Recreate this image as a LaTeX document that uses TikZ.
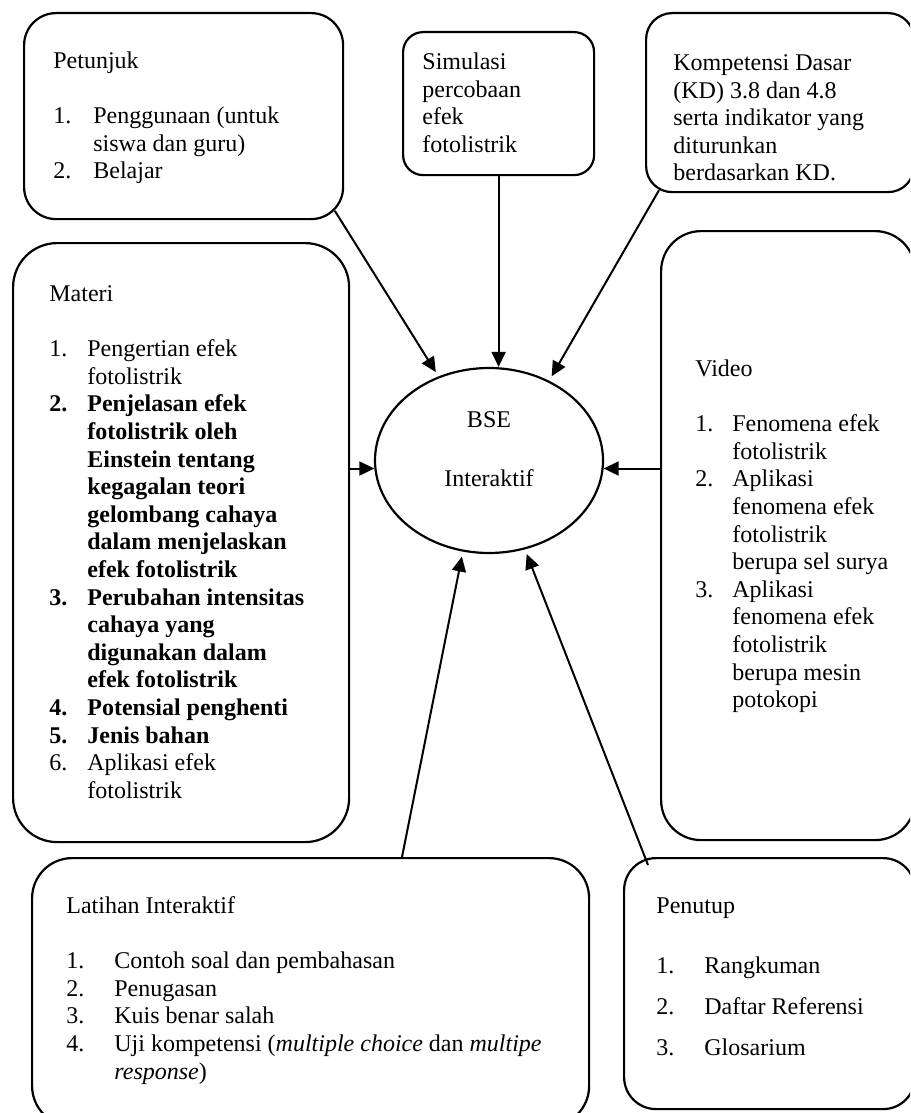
\documentclass[tikz,border=0pt]{standalone}
\usepackage{fontspec}
\setmainfont{Liberation Serif}
\usetikzlibrary{arrows.meta,shapes.geometric,calc}
\newcommand{\tstrut}{\rule{0pt}{9pt}}
\newcommand{\nr}[2][19pt]{\makebox[#1][l]{#2}}
\newcommand{\sk}[1][19pt]{\hspace*{#1}}
\begin{document}
\begin{tikzpicture}[x=0.5pt,y=0.5pt]
\tikzstyle{every node}+=[inner sep=0pt]
\tikzstyle{box}=[draw, line width=1.1pt, anchor=north west]
\tikzstyle{txt}=[anchor=north west, align=left, font=\fontsize{12}{13.8}\selectfont]
\tikzstyle{link}=[line width=1pt, -{Triangle[length=7.5pt,width=7pt]}]
\useasboundingbox (0,0) rectangle (910,-1113);
\clip (0,0) rectangle (910,-1113);
% boxes
\node [box, minimum width=159.5pt, minimum height=103pt, rounded corners=16pt] (pet) at (23,-12) {};
\node [box, minimum width=95.5pt, minimum height=71.5pt, rounded corners=10pt] (sim) at (402,-31) {};
\node [box, minimum width=134pt, minimum height=89.5pt, rounded corners=13pt] (kd) at (645,-12) {};
\node [box, minimum width=168pt, minimum height=299.5pt, rounded corners=22pt] (mat) at (12,-242) {};
\node [box, minimum width=127pt, minimum height=304.5pt, rounded corners=20pt] (vid) at (660,-230) {};
\node [box, minimum width=278.5pt, minimum height=134pt, rounded corners=20pt] (lat) at (31,-857) {};
\node [box, minimum width=145.5pt, minimum height=125.5pt, rounded corners=16pt] (pen) at (623,-857) {};
\node [draw, ellipse, line width=1.1pt, minimum width=114pt, minimum height=92.5pt] (bse) at (489,-460.5) {};
% texts
\node [txt] (pet-t) at (53,-50) {\tstrut Petunjuk\\[13.8pt]
\nr[20pt]{1.}Penggunaan (untuk\\
\sk[20pt]siswa dan guru)\\
\nr[20pt]{2.}Belajar};
\node [txt] (sim-t) at (422,-51) {\tstrut Simulasi\\percobaan\\efek\\fotolistrik};
\node [txt] (kd-t) at (673,-52) {\tstrut Kompetensi Dasar\\(KD) 3.8 dan 4.8\\serta indikator yang\\diturunkan\\berdasarkan KD.};
\node [txt] (mat-t) at (49,-283) {\tstrut Materi\\[13.8pt]
\nr{1.}Pengertian efek\\
\sk fotolistrik\\
\textbf{\nr{2.}Penjelasan efek}\\
\textbf{\sk fotolistrik oleh}\\
\textbf{\sk Einstein tentang}\\
\textbf{\sk kegagalan teori}\\
\textbf{\sk gelombang cahaya}\\
\textbf{\sk dalam menjelaskan}\\
\textbf{\sk efek fotolistrik}\\
\textbf{\nr{3.}Perubahan intensitas}\\
\textbf{\sk cahaya yang}\\
\textbf{\sk digunakan dalam}\\
\textbf{\sk efek fotolistrik}\\
\textbf{\nr{4.}Potensial penghenti}\\
\textbf{\nr{5.}Jenis bahan}\\
\nr{6.}Aplikasi efek\\
\sk fotolistrik};
\node [txt] (vid-t) at (695,-358) {\tstrut Video\\[13.8pt]
\nr[18.5pt]{1.}Fenomena efek\\
\sk[18.5pt]fotolistrik\\
\nr[18.5pt]{2.}Aplikasi\\
\sk[18.5pt]fenomena efek\\
\sk[18.5pt]fotolistrik\\
\sk[18.5pt]berupa sel surya\\
\nr[18.5pt]{3.}Aplikasi\\
\sk[18.5pt]fenomena efek\\
\sk[18.5pt]fotolistrik\\
\sk[18.5pt]berupa mesin\\
\sk[18.5pt]potokopi};
\node [txt, anchor=north, align=center] (bse-t) at (489,-409) {\tstrut BSE\\[15.7pt]Interaktif};
\node [txt] (lat-t) at (66,-895) {\tstrut Latihan Interaktif\\[13.8pt]
\nr[24pt]{1.}Contoh soal dan pembahasan\\
\nr[24pt]{2.}Penugasan\\
\nr[24pt]{3.}Kuis benar salah\\
\nr[24pt]{4.}Uji kompetensi (\textit{multiple choice} dan \textit{multipe}\\
\sk[24pt]\textit{response})};
\node [txt] (pen-t) at (656,-895) {\tstrut Penutup\\[16.2pt]
\nr[24pt]{1.}Rangkuman\\[6.7pt]
\nr[24pt]{2.}Daftar Referensi\\[6.7pt]
\nr[24pt]{3.}Glosarium};
% connectors
\coordinate (pet-o) at ($(pet.south east)+(-9.4,9.4)$);
\coordinate (kd-o) at ($(kd.south west)+(14,3)$);
\coordinate (lat-o) at ($(lat.north west)+(371,0)$);
\coordinate (pen-o) at ($(pen.north west)+(25,-8)$);
\draw [link, shorten >=2.5pt] (pet-o) -- (bse.121);
\draw [link] (sim.south) -- (sim.south |- bse.north);
\draw [link, shorten >=2.5pt] (kd-o) -- (bse.53);
\draw [link] (mat.east |- bse.184) -- (bse.184);
\draw [link] (vid.west |- bse.-4) -- (bse.-4);
\draw [link, shorten >=2.5pt] (lat-o) -- (bse.254);
\draw [link, shorten >=2.5pt] (pen-o) -- (bse.292);
\end{tikzpicture}
\end{document}
